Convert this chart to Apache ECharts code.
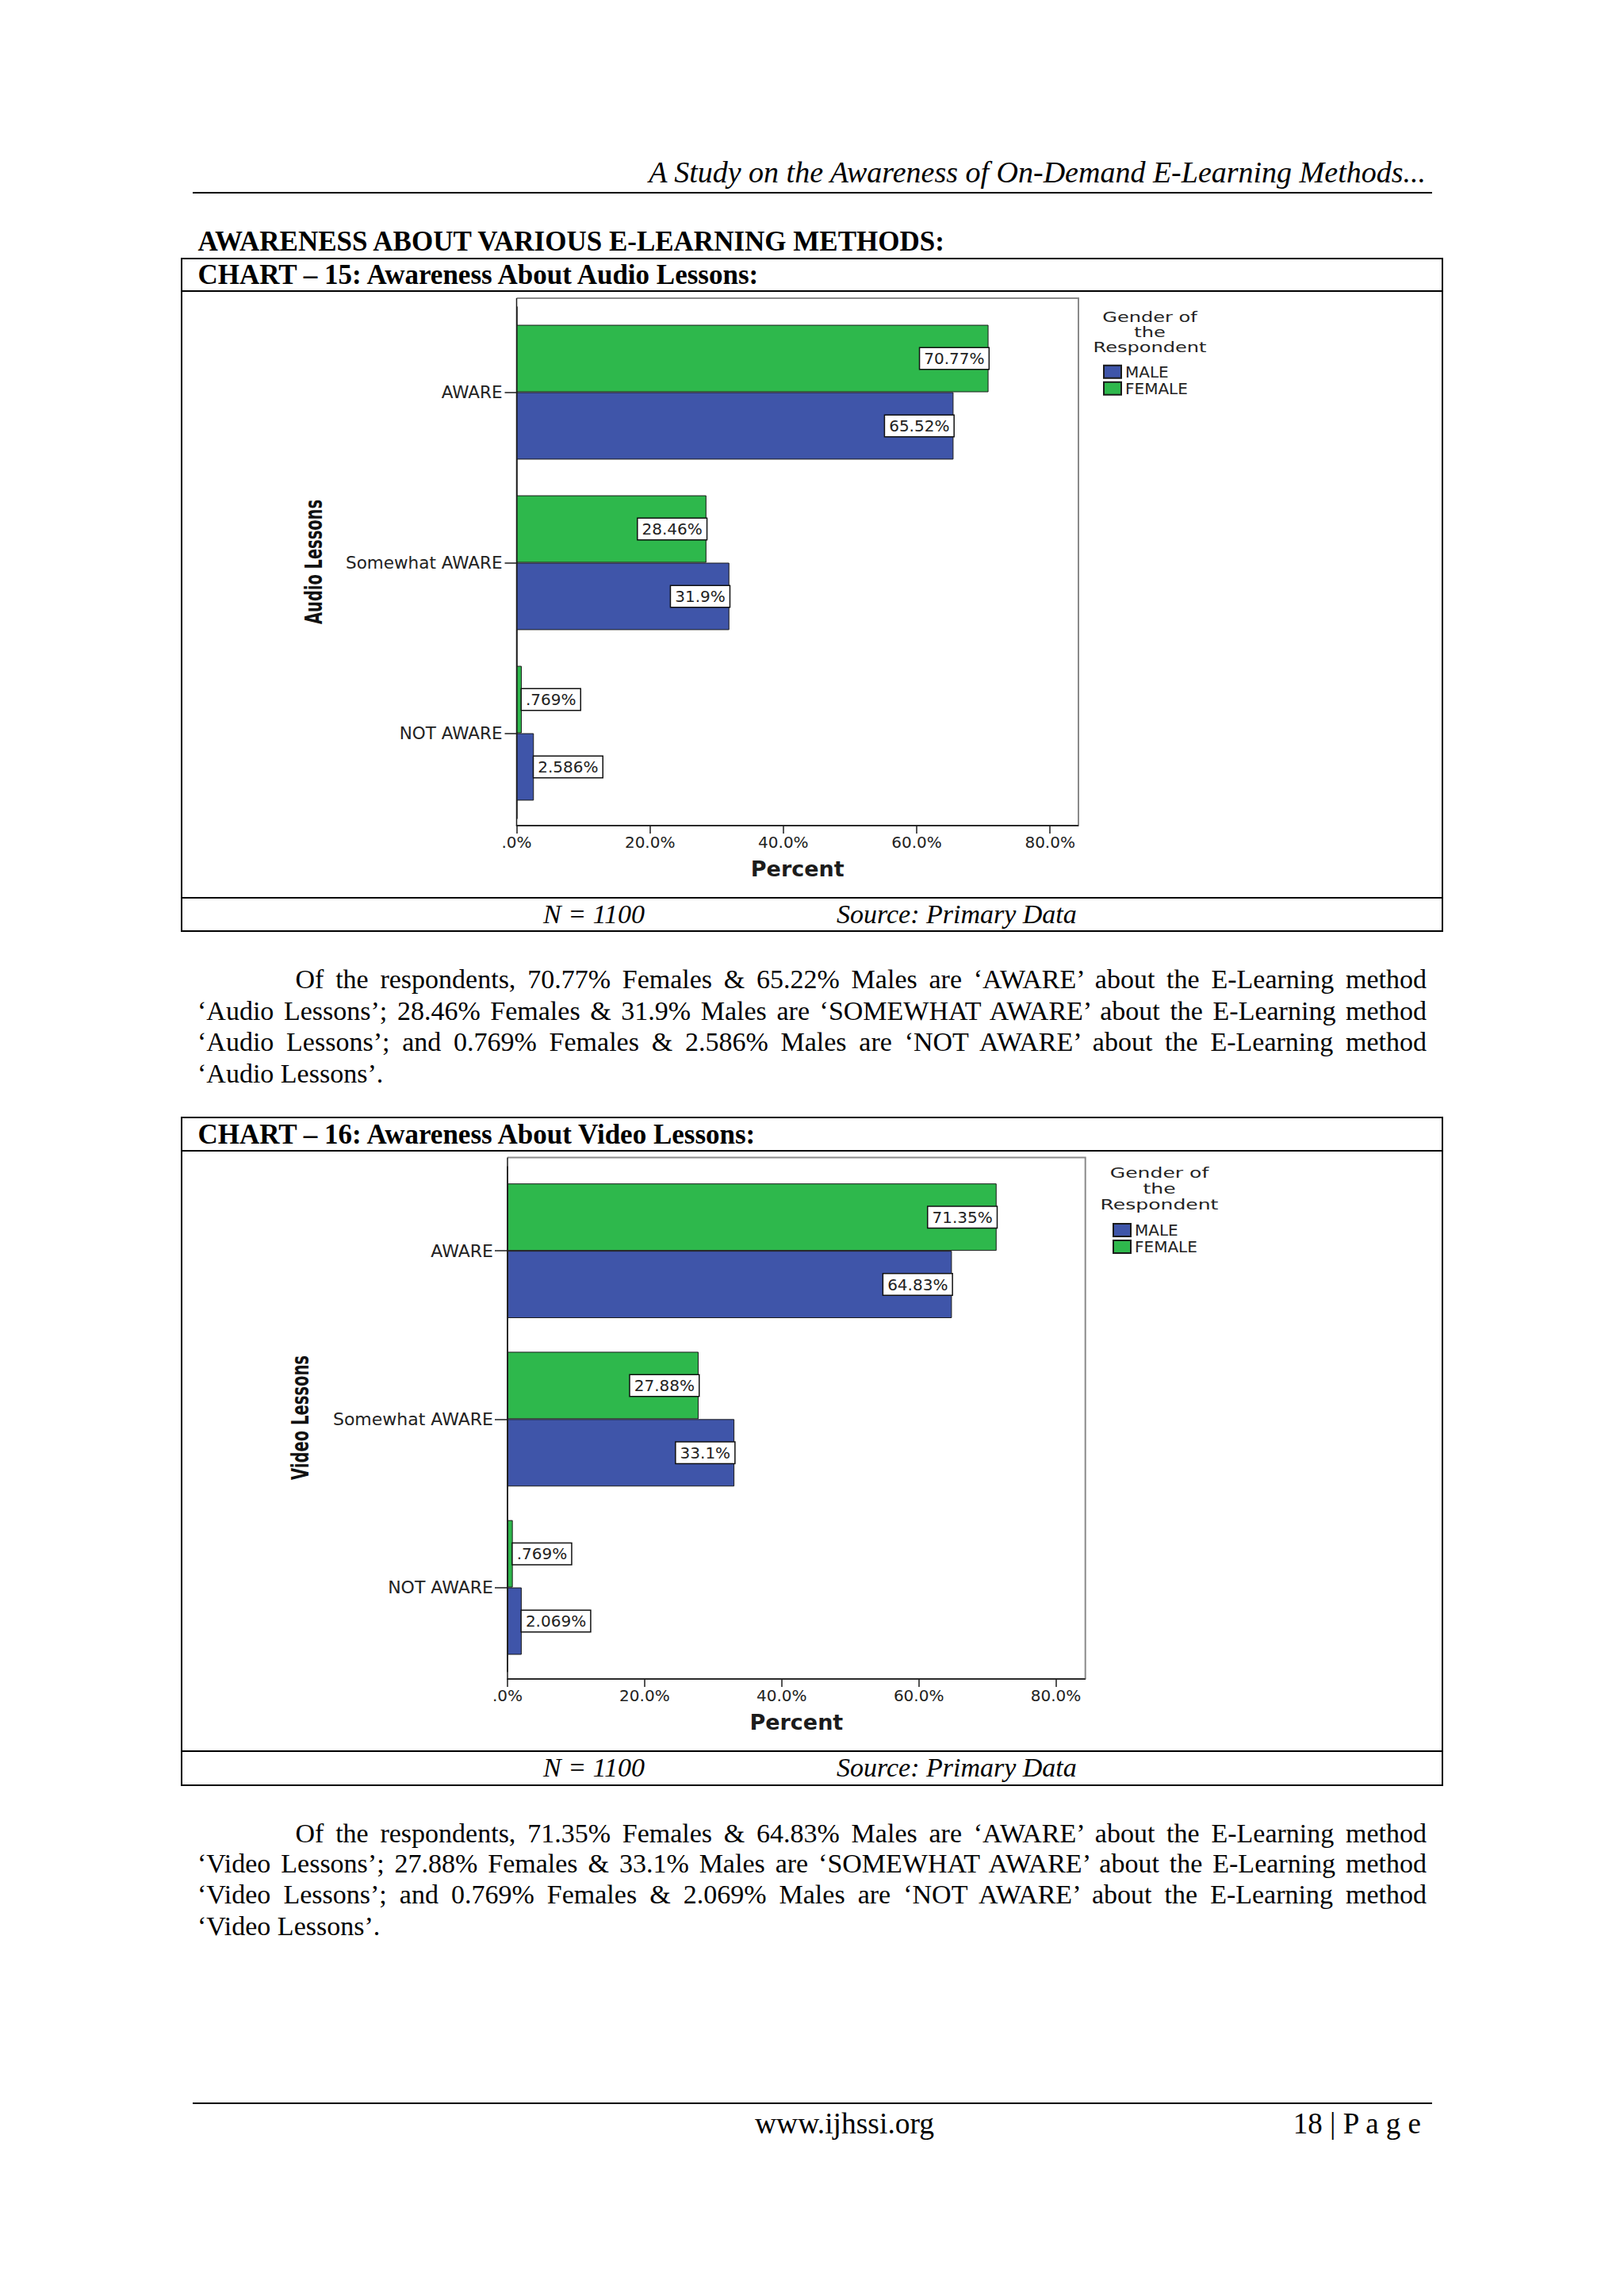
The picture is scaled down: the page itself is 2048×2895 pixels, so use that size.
<!DOCTYPE html>
<html>
<head>
<meta charset="utf-8">
<script src="https://cdn.jsdelivr.net/npm/echarts@6/dist/echarts.min.js"></script>
<style>
  html, body { margin: 0; padding: 0; background: #fff; }
  #page { position: relative; width: 2048px; height: 2895px; background: #fff; color: #000;
          font-family: 'Liberation Serif', 'Times New Roman', serif; overflow: hidden; }
  .t { position: absolute; white-space: nowrap; line-height: 1; }
  .rule { position: absolute; background: #000; }
  .box { position: absolute; border: 2px solid #000; box-sizing: border-box; }
  .jl { position: absolute; font-size: 34px; line-height: 1; text-align: justify; text-align-last: justify; white-space: nowrap; }
  .ll { position: absolute; font-size: 34px; line-height: 1; white-space: nowrap; }
  #chart { position: absolute; left: 0; top: 0; width: 2048px; height: 2895px; z-index: 2; }
</style>
</head>
<body>
<div id="page">
  <div class="t" style="right:250px;top:198px;font-size:38px;font-style:italic;">A Study on the Awareness of On-Demand E-Learning Methods...</div>
  <div class="rule" style="left:243px;top:241.5px;width:1563px;height:2px;"></div>

  <div class="t" style="left:249.5px;top:287.4px;font-size:35px;font-weight:bold;">AWARENESS ABOUT VARIOUS E-LEARNING METHODS:</div>

  <div class="box" style="left:228px;top:325px;width:1592px;height:849.5px;"></div>
  <div class="rule" style="left:228px;top:366px;width:1592px;height:2px;"></div>
  <div class="rule" style="left:228px;top:1130.7px;width:1592px;height:2px;"></div>
  <div class="t" style="left:249.5px;top:329px;font-size:35px;font-weight:bold;">CHART – 15: Awareness About Audio Lessons:</div>
  <div class="t" style="left:685px;top:1136px;font-size:34px;font-style:italic;">N = 1100</div>
  <div class="t" style="left:1055px;top:1136px;font-size:34px;font-style:italic;">Source: Primary Data</div>

  <div class="jl" style="left:372.5px;top:1218.2px;width:1426.5px;">Of the respondents, 70.77% Females &amp; 65.22% Males are ‘AWARE’ about the E-Learning method</div>
  <div class="jl" style="left:249px;top:1257.5px;width:1550px;">‘Audio Lessons’; 28.46% Females &amp; 31.9% Males are ‘SOMEWHAT AWARE’ about the E-Learning method</div>
  <div class="jl" style="left:249px;top:1297.2px;width:1550px;">‘Audio Lessons’; and 0.769% Females &amp; 2.586% Males are ‘NOT AWARE’ about the E-Learning method</div>
  <div class="ll" style="left:249px;top:1336.5px;">‘Audio Lessons’.</div>

  <div class="box" style="left:228px;top:1407.7px;width:1592px;height:844px;"></div>
  <div class="rule" style="left:228px;top:1449.7px;width:1592px;height:2px;"></div>
  <div class="rule" style="left:228px;top:2206.9px;width:1592px;height:2px;"></div>
  <div class="t" style="left:249.5px;top:1413.4px;font-size:35px;font-weight:bold;">CHART – 16: Awareness About Video Lessons:</div>
  <div class="t" style="left:685px;top:2212.3px;font-size:34px;font-style:italic;">N = 1100</div>
  <div class="t" style="left:1055px;top:2212.3px;font-size:34px;font-style:italic;">Source: Primary Data</div>

  <div class="jl" style="left:372.5px;top:2294.8px;width:1426.5px;">Of the respondents, 71.35% Females &amp; 64.83% Males are ‘AWARE’ about the E-Learning method</div>
  <div class="jl" style="left:249px;top:2333.2px;width:1550px;">‘Video Lessons’; 27.88% Females &amp; 33.1% Males are ‘SOMEWHAT AWARE’ about the E-Learning method</div>
  <div class="jl" style="left:249px;top:2372.2px;width:1550px;">‘Video Lessons’; and 0.769% Females &amp; 2.069% Males are ‘NOT AWARE’ about the E-Learning method</div>
  <div class="ll" style="left:249px;top:2411.5px;">‘Video Lessons’.</div>

  <div class="rule" style="left:243px;top:2650.5px;width:1563px;height:2.5px;"></div>
  <div class="t" style="left:952px;top:2658.6px;font-size:37.5px;">www.ijhssi.org</div>
  <div class="t" style="right:256px;top:2659px;font-size:37px;">18 | P a g e</div>

  <div id="chart"></div>
</div>
<script>
// ---------------- data ----------------
const categories = ['AWARE', 'Somewhat AWARE', 'NOT AWARE'];
const seriesNames = ['MALE', 'FEMALE'];
const audioFemale = [70.77, 28.46, 0.769];
const audioMale = [65.52, 31.9, 2.586];
const videoFemale = [71.35, 27.88, 0.769];
const videoMale = [64.83, 33.1, 2.069];
const percentTicks = [0, 20, 40, 60, 80];

// ---------------- styling / layout ----------------
const SANS = "'DejaVu Sans', Verdana, sans-serif";
const GREEN = '#2eb84c';
const BLUE = '#3f55a9';
const INK = '#1c1c1c';

const layouts = [
  { // chart 15
    frame: { l: 651.5, t: 376, r: 1360, b: 1041 },
    gridTop: 387, gridH: 645, xMax: 84.26,
    yTick: 15, yMargin: 18, nameGap: 41, catFont: 21.5,
    legendLeft: 1391, legendTop: 458.8,
    legTitle: { x: 1450, y: 390.5, lh: 19, w: 143 },
    yTitle: { text: 'Audio Lessons', x: 396, y: 708.5, len: 157 },
    gap: '21%'
  },
  { // chart 16
    frame: { l: 640, t: 1459.6, r: 1368.7, b: 2117 },
    gridTop: 1471, gridH: 636.7, xMax: 84.3,
    yTick: 16, yMargin: 18, nameGap: 41, catFont: 22,
    legendLeft: 1403, legendTop: 1541,
    legTitle: { x: 1462, y: 1469.6, lh: 19.6, w: 149 },
    yTitle: { text: 'Video Lessons', x: 378, y: 1787.5, len: 157 },
    gap: '20%'
  }
];

function tickFmt(v) {
  if (percentTicks.indexOf(v) < 0) return '';
  return v === 0 ? '.0%' : v.toFixed(1) + '%';
}
function pct(v) {
  let s = String(v);
  if (s.indexOf('0.') === 0) s = s.slice(1);
  return s + '%';
}
const mctx = document.createElement('canvas').getContext('2d');
function textWidth(text, font) { mctx.font = font; return mctx.measureText(text).width; }

const labelBase = {
  show: true, distance: 0, formatter: p => pct(p.value),
  backgroundColor: '#fff', borderColor: '#111', borderWidth: 1.5,
  padding: [3, 5, 3, 5], fontFamily: SANS, fontSize: 20, lineHeight: 20, color: '#222'
};
function barData(values) {
  return values.map(v => ({ value: v, label: { position: v > 10 ? 'insideRight' : 'right' } }));
}

const grids = [], xAxes = [], yAxes = [], series = [], legends = [], graphics = [];
const datasets = [[audioFemale, audioMale], [videoFemale, videoMale]];

layouts.forEach((L, i) => {
  const f = L.frame;
  grids.push({ left: f.l, top: L.gridTop, width: f.r - f.l, height: L.gridH, containLabel: false });
  xAxes.push({
    type: 'value', gridIndex: i, min: 0, max: L.xMax, interval: 20,
    offset: f.b - (L.gridTop + L.gridH),
    name: 'Percent', nameLocation: 'middle', nameGap: L.nameGap,
    nameTextStyle: { fontFamily: SANS, fontSize: 27, fontWeight: 'bold', color: INK },
    axisLine: { show: true, lineStyle: { color: INK, width: 1.5 } },
    axisTick: { show: true, length: 10, customValues: percentTicks, lineStyle: { color: INK, width: 1.5 } },
    axisLabel: { customValues: percentTicks, formatter: tickFmt, showMinLabel: true, showMaxLabel: true,
                 fontFamily: SANS, fontSize: 20, color: '#222', margin: 11 },
    splitLine: { show: false }
  });
  yAxes.push({
    type: 'category', gridIndex: i, data: categories, inverse: true,
    axisLine: { show: true, lineStyle: { color: INK, width: 1.5 } },
    axisTick: { show: true, alignWithLabel: true, length: L.yTick, lineStyle: { color: INK, width: 1.5 } },
    axisLabel: { fontFamily: SANS, fontSize: L.catFont, color: '#222', margin: L.yMargin }
  });
  const [fem, mal] = datasets[i];
  series.push({
    type: 'bar', name: 'FEMALE', xAxisIndex: i, yAxisIndex: i, data: barData(fem),
    barGap: '0%', barCategoryGap: L.gap,
    itemStyle: { color: GREEN, borderColor: '#1a1a1a', borderWidth: 1 },
    label: labelBase, z: 2
  });
  series.push({
    type: 'bar', name: 'MALE', xAxisIndex: i, yAxisIndex: i, data: barData(mal),
    barGap: '0%', barCategoryGap: L.gap,
    itemStyle: { color: BLUE, borderColor: '#1a1a1a', borderWidth: 1 },
    label: labelBase, z: 2
  });
  legends.push({
    data: seriesNames, orient: 'vertical', left: L.legendLeft, top: L.legendTop,
    itemWidth: 22, itemHeight: 16, itemGap: 1, icon: 'rect', padding: 0, selectedMode: false,
    textStyle: { fontFamily: SANS, fontSize: 20, color: '#222', lineHeight: 18 }
  });
  // plot frame
  graphics.push({ type: 'polyline', silent: true, z: 5,
    shape: { points: [[f.l, f.t], [f.r, f.t], [f.r, f.b]] },
    style: { stroke: '#8a8a8a', lineWidth: 2, fill: null } });
  graphics.push({ type: 'polyline', silent: true, z: 6,
    shape: { points: [[f.l, f.t], [f.l, f.b], [f.r, f.b]] },
    style: { stroke: INK, lineWidth: 1.5, fill: null } });
  // legend title
  const lsx = L.legTitle.w / textWidth('Respondent', "17px 'DejaVu Sans'");
  graphics.push({ type: 'text', x: L.legTitle.x, y: L.legTitle.y, scaleX: lsx, silent: true,
    style: { text: 'Gender of\nthe\nRespondent', fontFamily: SANS, fontSize: 17, lineHeight: L.legTitle.lh,
             align: 'center', verticalAlign: 'top', fill: '#222' } });
  // rotated y-axis title
  const ysx = L.yTitle.len / textWidth(L.yTitle.text, "bold 30px 'DejaVu Sans'");
  graphics.push({ type: 'text', x: L.yTitle.x, y: L.yTitle.y, rotation: Math.PI / 2, scaleX: ysx, silent: true,
    style: { text: L.yTitle.text, fontFamily: SANS, fontWeight: 'bold', fontSize: 30,
             align: 'center', verticalAlign: 'middle', fill: '#111' } });
});

const chart = echarts.init(document.getElementById('chart'), null, { renderer: 'svg', width: 2048, height: 2895 });
chart.setOption({
  animation: false,
  backgroundColor: 'transparent',
  grid: grids, xAxis: xAxes, yAxis: yAxes, series: series, legend: legends,
  graphic: graphics
});
</script>
</body>
</html>
